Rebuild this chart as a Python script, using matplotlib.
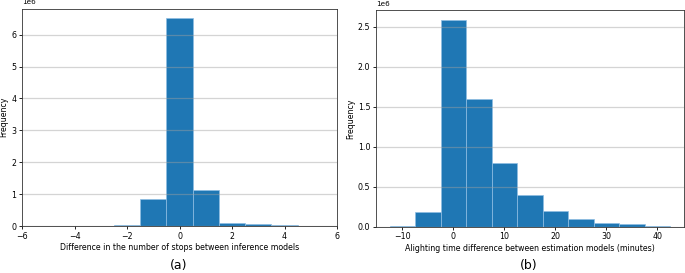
import matplotlib
matplotlib.use("Agg")
import matplotlib.pyplot as plt

# Panel (a): difference in number of stops
a_centers = [-4, -3, -2, -1, 0, 1, 2, 3, 4, 5]
a_counts = [0.012e6, 0.012e6, 0.03e6, 0.85e6, 6.52e6, 1.12e6, 0.10e6, 0.05e6, 0.03e6, 0.015e6]
a_width = 1.0

# Panel (b): alighting time difference (minutes)
b_centers = [-10, -5, 0, 5, 10, 15, 20, 25, 30, 35, 40]
b_counts = [0.015e6, 0.18e6, 2.58e6, 1.60e6, 0.80e6, 0.395e6, 0.195e6, 0.10e6, 0.05e6, 0.028e6, 0.015e6]
b_width = 5.0

W, H = 685, 273
fig = plt.figure(figsize=(W / 100, H / 100), dpi=100)

fs = 5.7
bar_color = "#1f77b4"
edge = "#8fbde3"

def rect(l, t, r, b):
    return [l / W, 1 - b / H, (r - l) / W, (b - t) / H]

ax1 = fig.add_axes(rect(22, 8.5, 337, 226))
ax1.bar(a_centers, a_counts, width=a_width, color=bar_color, edgecolor=edge, linewidth=0.5)
ax1.set_xlim(-6, 6)
ax1.set_ylim(0, 6.82e6)
ax1.set_xticks([-6, -4, -2, 0, 2, 4, 6])
ax1.set_yticks([0, 1e6, 2e6, 3e6, 4e6, 5e6, 6e6])
ax1.set_xlabel("Difference in the number of stops between inference models", fontsize=fs, labelpad=2)
ax1.set_ylabel("Frequency", fontsize=fs, labelpad=2)

ax2 = fig.add_axes(rect(375.7, 10, 684, 226.7))
ax2.bar(b_centers, b_counts, width=b_width, color=bar_color, edgecolor=edge, linewidth=0.5)
ax2.set_xlim(-15.25, 45.25)
ax2.set_ylim(0, 2.71e6)
ax2.set_xticks([-10, 0, 10, 20, 30, 40])
ax2.set_yticks([0, 0.5e6, 1.0e6, 1.5e6, 2.0e6, 2.5e6])
ax2.set_xlabel("Alighting time difference between estimation models (minutes)", fontsize=fs, labelpad=2)
ax2.set_ylabel("Frequency", fontsize=fs, labelpad=2)

for ax in (ax1, ax2):
    ax.grid(axis="y", color="#a0a0a0", alpha=0.45, linewidth=0.9)
    ax.tick_params(labelsize=fs, length=2.5, width=0.6, pad=1.5)
    ax.yaxis.get_offset_text().set_fontsize(5.2)
    for s in ax.spines.values():
        s.set_linewidth(0.6)
        s.set_color("#333333")

fig.text(179 / W, 1 - 265 / H, "(a)", ha="center", va="center", fontsize=9)
fig.text(529 / W, 1 - 265 / H, "(b)", ha="center", va="center", fontsize=9)

fig.savefig("out.png", dpi=100)
